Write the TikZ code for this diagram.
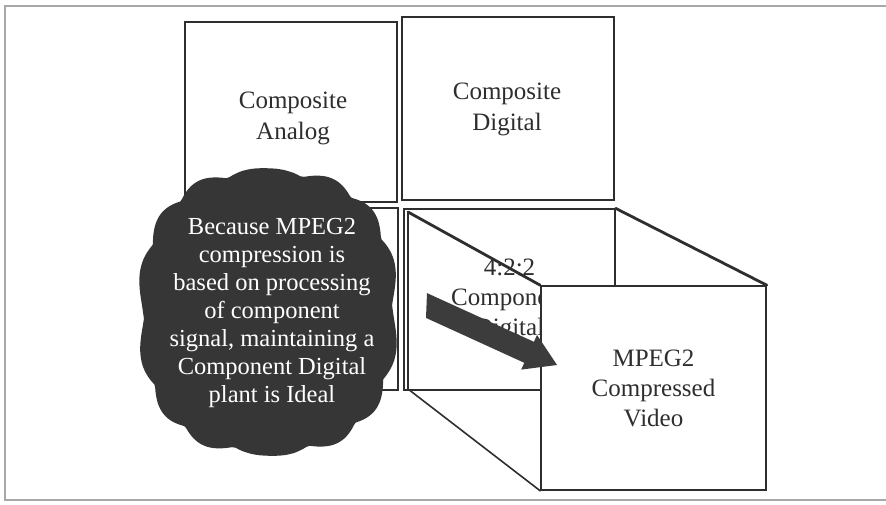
\documentclass[tikz,border=0pt]{standalone}
\usepackage{fontspec}
\setmainfont{Liberation Serif}
\definecolor{inkc}{HTML}{2E2E2E}
\definecolor{framec}{HTML}{A8A8A8}
\definecolor{cloudc}{HTML}{363636}
\definecolor{arrowc}{HTML}{3C3C3C}
\begin{document}
\begin{tikzpicture}[x=1pt,y=-1pt,
  box/.style={draw=inkc, line width=1.3pt, fill=white, inner sep=0pt, align=center,
    text=inkc, font=\fontsize{25}{30}\selectfont},
  boxtext/.style={align=center, inner sep=0pt, text=inkc, font=\fontsize{25}{31}\selectfont},
  edgethick/.style={draw=inkc, line width=2.8pt, line cap=round},
  edgethin/.style={draw=inkc, line width=1.6pt, line cap=round},
  notetext/.style={text=white, align=center, inner sep=0pt, font=\fontsize{24.5}{28}\selectfont}]
\useasboundingbox (0,0) rectangle (886,504);
\draw[framec, line width=1.2pt] (886,6) -- (5,6) -- (5,500) -- (886,500);
% grid of four boxes
\node[box, minimum width=212pt, minimum height=180pt] (ca) at (291,112) {};
\node[boxtext] (catext) at (293,118) {Composite\\Analog};
\node[box, minimum width=212pt, minimum height=183pt] (cd) at (508,108.5) {};
\node[boxtext] (cdtext) at (507,109) {Composite\\Digital};
\node[box, minimum width=213pt, minimum height=182pt] (bl) at (291.5,299) {};
\node[box, minimum width=211pt, minimum height=181pt] (br) at (509.5,299.5) {4:2:2\\Component\\Digital};
% back face inner edge of the cube
\coordinate (b1) at (408,212);
\coordinate (b4) at (408,389);
\draw[inkc, line width=1.2pt] (b1) -- (b4);
% cloud
\fill[cloudc] plot[variable=\t, samples=240, domain=0.2:358.7]
  ({268+124*(1+0.05*abs(sin(7*\t+10)))*sign(cos(\t))*pow(abs(cos(\t))+0.0001,0.8)},
   {312+137*(1+0.05*abs(sin(7*\t+10)))*sign(sin(\t))*pow(abs(sin(\t))+0.0001,0.8)}) -- cycle;
\node[notetext] (note) at (272,313) {Because MPEG2\\compression is\\based on processing\\of component\\signal, maintaining a\\Component Digital\\plant is Ideal};
% front face of the cube
\node[box, line width=1.6pt, minimum width=225pt, minimum height=204pt] (mpeg) at (653.5,388) {MPEG2\\Compressed\\Video};
\draw[edgethick] (b1) -- (mpeg.north west);
\draw[edgethick] (br.north east) -- (mpeg.north east);
\draw[edgethin] (b4) -- (mpeg.south west);
% arrow
\fill[arrowc] (427,293.1) -- (533.9,341.8) -- (537,335) -- (557,365) -- (521.2,369.6) -- (524.3,362.8) -- (426,317.9) -- cycle;
\end{tikzpicture}
\end{document}
